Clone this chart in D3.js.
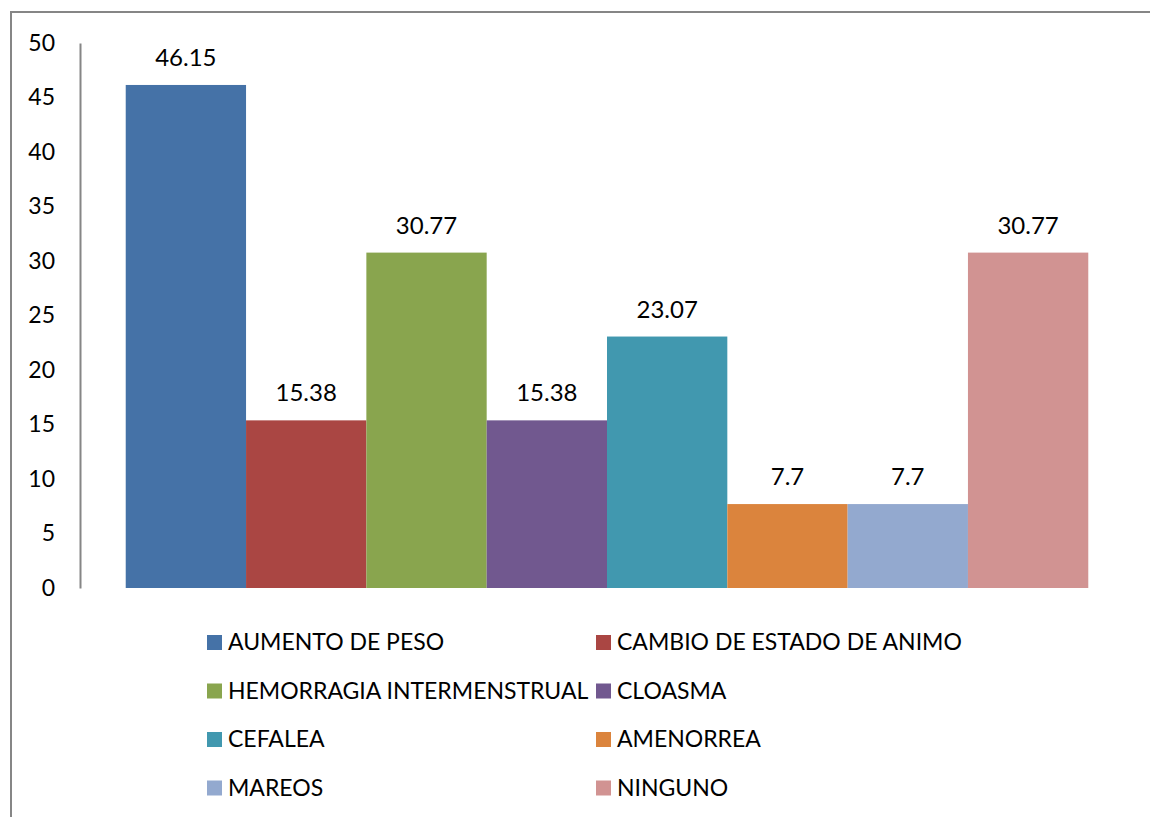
<!DOCTYPE html>
<html>
<head>
<meta charset="utf-8">
<script src="https://cdn.jsdelivr.net/npm/d3@7"></script>
<style>
  body { margin: 0; background: #fff; }
  text { font-family: Lato, "Open Sans", sans-serif; fill: #000; }
</style>
</head>
<body>
<div id="chart"></div>
<script>
// data
var categories = ["AUMENTO DE PESO", "CAMBIO DE ESTADO DE ANIMO", "HEMORRAGIA INTERMENSTRUAL",
  "CLOASMA", "CEFALEA", "AMENORREA", "MAREOS", "NINGUNO"];
var values = [46.15, 15.38, 30.77, 15.38, 23.07, 7.7, 7.7, 30.77];
var colors = ["#4572A7", "#AA4643", "#89A54E", "#71588F", "#4198AF", "#DB843D", "#93A9CF", "#D19392"];
var yTicks = [0, 5, 10, 15, 20, 25, 30, 35, 40, 45, 50];

var width = 1150, height = 817;

var svg = d3.select("#chart").append("svg")
  .attr("width", width)
  .attr("height", height);

// outer frame (right / bottom run off the picture)
svg.append("rect")
  .attr("x", 11).attr("y", 12)
  .attr("width", 1160).attr("height", 820)
  .attr("fill", "none")
  .attr("stroke", "#868686")
  .attr("stroke-width", 2);

var plotLeft = 80, plotRight = 1134, plotTop = 43, plotBottom = 588;

var x = d3.scaleBand()
  .domain(categories)
  .range([plotLeft, plotRight])
  .paddingInner(0)
  .paddingOuter(0.38);

var y = d3.scaleLinear()
  .domain([0, 50])
  .range([plotBottom, plotTop]);

// y axis
var yAxis = d3.axisLeft(y).tickValues(yTicks).tickSize(0).tickPadding(25);
var gy = svg.append("g")
  .attr("transform", "translate(" + plotLeft + ",0)")
  .call(yAxis);
gy.select(".domain").attr("stroke", "#868686").attr("stroke-width", 2);
gy.selectAll(".tick text")
  .attr("font-size", 23)
  .attr("font-family", "Lato, 'Open Sans', sans-serif")
  .attr("fill", "#000");

// bars
svg.selectAll(".bar")
  .data(values)
  .enter().append("rect")
  .attr("class", "bar")
  .attr("x", (d, i) => x(categories[i]))
  .attr("y", d => y(d))
  .attr("width", x.bandwidth())
  .attr("height", d => plotBottom - y(d))
  .attr("fill", (d, i) => colors[i]);

// value labels
svg.selectAll(".val")
  .data(values)
  .enter().append("text")
  .attr("class", "val")
  .attr("x", (d, i) => x(categories[i]) + x.bandwidth() / 2)
  .attr("y", d => y(d) - 19)
  .attr("text-anchor", "middle")
  .attr("font-size", 24)
  .text(d => d);

// legend, two columns
var legendCols = [207, 596], legendTop = 642, legendStep = 48.5;
var leg = svg.selectAll(".leg")
  .data(categories)
  .enter().append("g")
  .attr("class", "leg")
  .attr("transform", (d, i) =>
    "translate(" + legendCols[i % 2] + "," + (legendTop + Math.floor(i / 2) * legendStep) + ")");

leg.append("rect")
  .attr("x", 0).attr("y", -7)
  .attr("width", 15).attr("height", 15)
  .attr("fill", (d, i) => colors[i]);

leg.append("text")
  .attr("x", 21)
  .attr("y", 0)
  .attr("dy", "0.35em")
  .attr("font-size", 23)
  .text(d => d);
</script>
</body>
</html>
